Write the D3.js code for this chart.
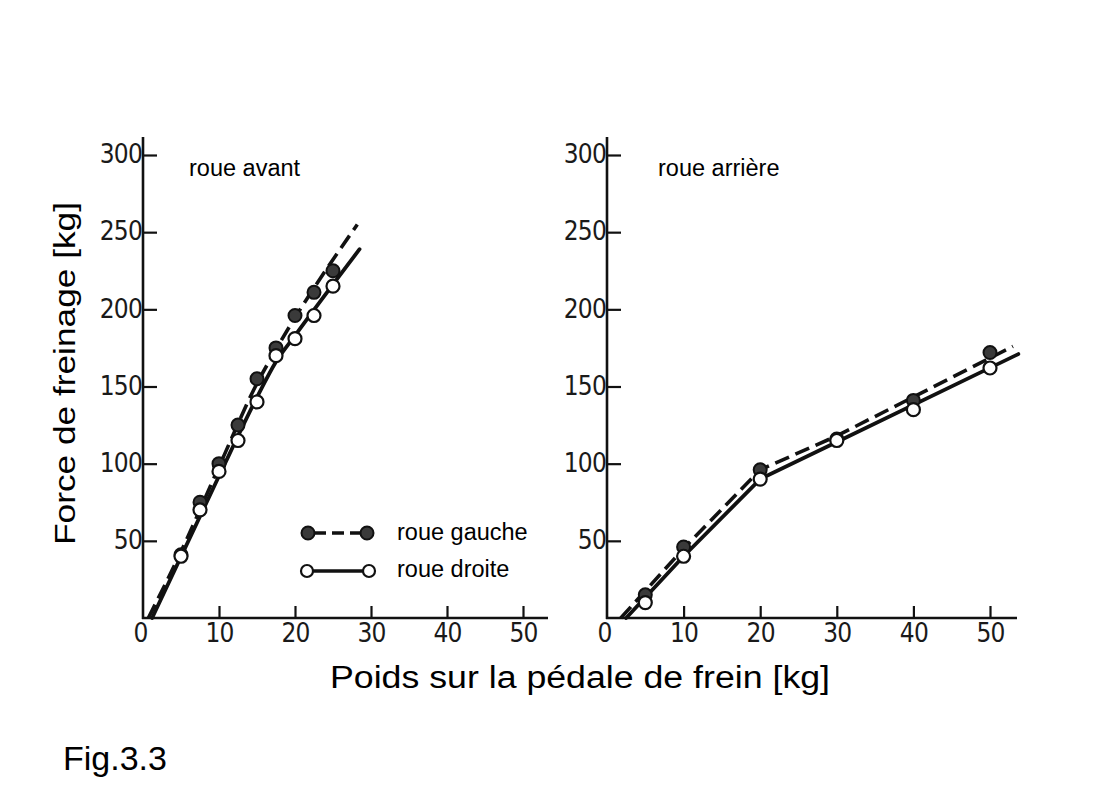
<!DOCTYPE html>
<html>
<head>
<meta charset="utf-8">
<script src="https://cdn.jsdelivr.net/npm/d3@7"></script>
<style>
  html, body { margin: 0; padding: 0; background: #fff; }
  svg { display: block; }
</style>
</head>
<body>
<svg id="chart" width="1100" height="800"></svg>
<script>
// ---- Data ----
const xTicks = [0, 10, 20, 30, 40, 50];
const yTicks = [50, 100, 150, 200, 250, 300];

// roue avant – measured points
const avantX = [5, 7.5, 10, 12.5, 15, 17.5, 20, 22.5, 25];
const avantGaucheY = [41, 75, 100, 125, 155, 175, 196, 211, 225];
const avantDroiteY = [40, 70, 95, 115, 140, 170, 181, 196, 215];
// roue avant – drawn curves
const avantGaucheCourbeX = [0.7, 5, 10, 15, 17.5, 28.2];
const avantGaucheCourbeY = [0, 43, 98, 152, 174, 255];
const avantDroiteCourbeX = [1.2, 10, 15, 17.5, 20, 28.5];
const avantDroiteCourbeY = [0, 92, 143, 166, 183, 239];

// roue arrière – measured points
const arriereX = [5, 10, 20, 30, 40, 50];
const arriereGaucheY = [15, 46, 96, 116, 141, 172];
const arriereDroiteY = [10, 40, 90, 115, 135, 162];
// roue arrière – drawn curves
const arriereGaucheCourbeX = [1.8, 10, 20, 30, 53];
const arriereGaucheCourbeY = [0, 45, 96, 118, 176];
const arriereDroiteCourbeX = [2.5, 10, 20, 30, 53.7];
const arriereDroiteCourbeY = [0, 40, 90, 114, 171];

const titles = ["roue avant", "roue arrière"];
const legendLabels = ["roue gauche", "roue droite"];

// ---- Drawing ----
const svg = d3.select("#chart");
const tickFont = "'Liberation Sans Narrow', 'DejaVu Sans Condensed', 'Liberation Sans', sans-serif";
const textFont = "'Liberation Sans', Arial, sans-serif";

const y = d3.scaleLinear().domain([0, 300]).range([618, 155]);

const panels = [
  { x: d3.scaleLinear().domain([0, 50]).range([143, 523]), xEnd: 548,
    title: titles[0], titleX: 189, curve: d3.curveMonotoneX,
    pX: avantX, gY: avantGaucheY, dY: avantDroiteY,
    gcX: avantGaucheCourbeX, gcY: avantGaucheCourbeY,
    dcX: avantDroiteCourbeX, dcY: avantDroiteCourbeY },
  { x: d3.scaleLinear().domain([0, 50]).range([607, 990]), xEnd: 1017,
    title: titles[1], titleX: 658, curve: d3.curveLinear,
    pX: arriereX, gY: arriereGaucheY, dY: arriereDroiteY,
    gcX: arriereGaucheCourbeX, gcY: arriereGaucheCourbeY,
    dcX: arriereDroiteCourbeX, dcY: arriereDroiteCourbeY }
];

panels.forEach(p => {
  const g = svg.append("g");
  const x = p.x;
  const x0 = x(0);

  // y axis
  const ya = g.append("g").attr("transform", `translate(${x0},0)`)
    .call(d3.axisLeft(y).tickValues(yTicks).tickSizeInner(-14).tickSizeOuter(0).tickPadding(1));
  ya.select(".domain").remove();
  ya.selectAll(".tick line").attr("stroke", "#111").attr("stroke-width", 2.2);
  ya.selectAll(".tick text").attr("font-family", tickFont).attr("font-size", 26)
    .attr("letter-spacing", -0.8).attr("fill", "#1a1a1a").attr("dy", "0.3em");

  // x axis
  const xa = g.append("g").attr("transform", `translate(0,${y(0)})`)
    .call(d3.axisBottom(x).tickValues(xTicks).tickSizeInner(-12).tickSizeOuter(0).tickPadding(6));
  xa.select(".domain").remove();
  xa.selectAll(".tick line").attr("stroke", "#111").attr("stroke-width", 2.2)
    .filter(d => d === 0).remove();
  xa.selectAll(".tick text").attr("font-family", tickFont).attr("font-size", 26)
    .attr("letter-spacing", -0.8).attr("fill", "#1a1a1a");
  xa.selectAll(".tick").filter(d => d === 0).select("text").attr("dx", -3);

  // axis lines
  g.append("line").attr("x1", x0).attr("x2", x0).attr("y1", y(0) + 1).attr("y2", 137)
    .attr("stroke", "#111").attr("stroke-width", 2.6);
  g.append("line").attr("x1", x0 - 1).attr("x2", p.xEnd).attr("y1", y(0)).attr("y2", y(0))
    .attr("stroke", "#111").attr("stroke-width", 2.6);

  // title
  g.append("text").attr("x", p.titleX).attr("y", 176).text(p.title)
    .attr("font-family", textFont).attr("font-size", 23.5).attr("fill", "#000");

  // curves
  const line = d3.line().x(d => x(d[0])).y(d => y(d[1])).curve(p.curve);
  const gc = p.gcX.map((v, i) => [v, p.gcY[i]]);
  const dc = p.dcX.map((v, i) => [v, p.dcY[i]]);
  g.append("path").attr("d", line(dc)).attr("fill", "none")
    .attr("stroke", "#111").attr("stroke-width", 3.8).attr("stroke-linecap", "round")
    .attr("stroke-linejoin", "round");
  g.append("path").attr("d", line(gc)).attr("fill", "none")
    .attr("stroke", "#111").attr("stroke-width", 3.6).attr("stroke-dasharray", "15,7");

  // points
  g.selectAll("circle.gauche").data(p.pX.map((v, i) => [v, p.gY[i]])).join("circle")
    .attr("class", "gauche").attr("cx", d => x(d[0])).attr("cy", d => y(d[1])).attr("r", 6.5)
    .attr("fill", "#3a3a3a").attr("stroke", "#111").attr("stroke-width", 2);
  g.selectAll("circle.droite").data(p.pX.map((v, i) => [v, p.dY[i]])).join("circle")
    .attr("class", "droite").attr("cx", d => x(d[0])).attr("cy", d => y(d[1])).attr("r", 6.5)
    .attr("fill", "#fff").attr("stroke", "#111").attr("stroke-width", 2.2);
});

// legend
const lg = svg.append("g");
lg.append("line").attr("x1", 308).attr("x2", 367).attr("y1", 533).attr("y2", 533)
  .attr("stroke", "#111").attr("stroke-width", 3.6).attr("stroke-dasharray", "12,6")
  .attr("stroke-dashoffset", -6);
[308, 367].forEach(cx => lg.append("circle").attr("cx", cx).attr("cy", 533).attr("r", 6.5)
  .attr("fill", "#3a3a3a").attr("stroke", "#111").attr("stroke-width", 2));
lg.append("line").attr("x1", 307).attr("x2", 369).attr("y1", 571).attr("y2", 571)
  .attr("stroke", "#111").attr("stroke-width", 3.6);
[307, 369].forEach(cx => lg.append("circle").attr("cx", cx).attr("cy", 571).attr("r", 6)
  .attr("fill", "#fff").attr("stroke", "#111").attr("stroke-width", 2.2));
lg.append("text").attr("x", 397).attr("y", 540).text(legendLabels[0])
  .attr("font-family", textFont).attr("font-size", 23.5);
lg.append("text").attr("x", 397).attr("y", 577).text(legendLabels[1])
  .attr("font-family", textFont).attr("font-size", 23.5);

// axis titles
svg.append("text").attr("x", 330).attr("y", 688).text("Poids sur la pédale de frein [kg]")
  .attr("font-family", textFont).attr("font-size", 31)
  .attr("textLength", 500).attr("lengthAdjust", "spacingAndGlyphs");
svg.append("text").attr("transform", "translate(75,545) rotate(-90)")
  .text("Force de freinage [kg]")
  .attr("font-family", textFont).attr("font-size", 30)
  .attr("textLength", 343).attr("lengthAdjust", "spacingAndGlyphs");

// figure label
svg.append("text").attr("x", 63).attr("y", 770).text("Fig.3.3")
  .attr("font-family", textFont).attr("font-size", 34);
</script>
</body>
</html>
